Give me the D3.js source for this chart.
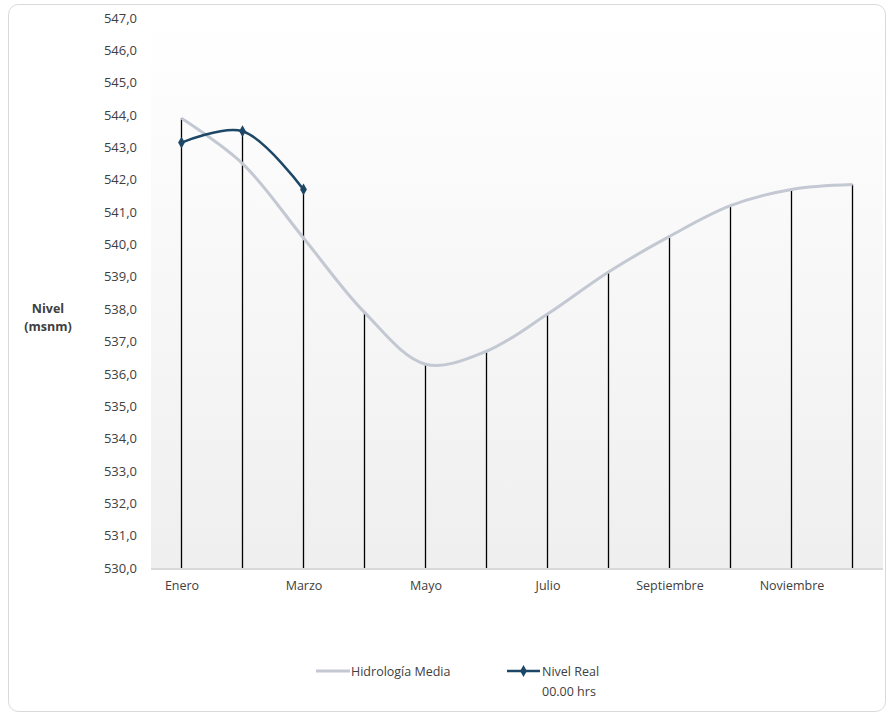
<!DOCTYPE html>
<html>
<head>
<meta charset="utf-8">
<script src="https://cdn.jsdelivr.net/npm/d3@7"></script>
<style>
  body { margin: 0; background: #fff; }
  svg { font-family: "Open Sans", "Noto Sans", sans-serif; }
</style>
</head>
<body>
<svg id="chart" width="893" height="716"></svg>
<script>
const meses = ["Enero", "Febrero", "Marzo", "Abril", "Mayo", "Junio", "Julio",
  "Agosto", "Septiembre", "Octubre", "Noviembre", "Diciembre"];
const hidrologiaMedia = [543.9, 542.5, 540.2, 537.9, 536.3, 536.7, 537.85,
  539.15, 540.25, 541.2, 541.7, 541.85];
const nivelReal = [543.15, 543.5, 541.7];
const yTicks = d3.range(530, 548, 1);
const xLabels = ["Enero", "Marzo", "Mayo", "Julio", "Septiembre", "Noviembre"];

const margin = { top: 18, left: 151 };
const innerWidth = 883 - margin.left;
const innerHeight = 568 - margin.top;
const textColor = "#404040";

const svg = d3.select("#chart");

// chart border
svg.append("rect")
    .attr("x", 8.5)
    .attr("y", 4.5)
    .attr("width", 877)
    .attr("height", 707)
    .attr("rx", 10)
    .attr("fill", "#fff")
    .attr("stroke", "#d9d9d9");

const defs = svg.append("defs");
const grad = defs.append("linearGradient")
    .attr("id", "bg")
    .attr("x1", 0).attr("x2", 0)
    .attr("y1", 0).attr("y2", 1);
grad.append("stop").attr("offset", "0%").attr("stop-color", "#ffffff");
grad.append("stop").attr("offset", "100%").attr("stop-color", "#efefef");

const innerChart = svg.append("g")
    .attr("transform", `translate(${margin.left}, ${margin.top})`);

const xScale = d3.scalePoint()
    .domain(meses)
    .range([0, innerWidth])
    .padding(0.5);

const yScale = d3.scaleLinear()
    .domain([530, 547])
    .range([innerHeight, 0]);

innerChart.append("rect")
    .attr("x", 0)
    .attr("y", 0)
    .attr("width", innerWidth)
    .attr("height", innerHeight)
    .attr("fill", "url(#bg)");

// bottom axis line
innerChart.append("line")
    .attr("x1", 0)
    .attr("x2", innerWidth)
    .attr("y1", innerHeight + 1)
    .attr("y2", innerHeight + 1)
    .attr("stroke", "#d9d9d9")
    .attr("stroke-width", 2);

// drop lines from the highest value at each month
innerChart.append("g")
    .attr("class", "drop-lines")
  .selectAll("line")
  .data(meses)
  .join("line")
    .attr("x1", d => xScale(d))
    .attr("x2", d => xScale(d))
    .attr("y1", (d, i) => yScale(d3.max([hidrologiaMedia[i], nivelReal[i]].filter(v => v !== undefined))))
    .attr("y2", innerHeight)
    .attr("stroke", "#000")
    .attr("stroke-width", 1.3);

// y axis labels
const yAxis = d3.axisLeft(yScale)
    .tickValues(yTicks)
    .tickSize(0)
    .tickPadding(14)
    .tickFormat(d => d3.format(".1f")(d).replace(".", ","));
innerChart.append("g")
    .call(yAxis)
    .attr("font-family", null)
    .attr("font-size", null)
    .call(g => g.select(".domain").remove())
    .selectAll("text")
      .style("font-size", "13px")
      .style("fill", textColor);

// x axis labels
const xAxis = d3.axisBottom(xScale)
    .tickValues(xLabels)
    .tickSize(0)
    .tickPadding(13);
innerChart.append("g")
    .attr("transform", `translate(0, ${innerHeight})`)
    .call(xAxis)
    .attr("font-family", null)
    .attr("font-size", null)
    .call(g => g.select(".domain").remove())
    .selectAll("text")
      .style("font-size", "12.5px")
      .style("fill", textColor);

// y axis title
const yTitle = svg.append("text")
    .attr("x", 48)
    .attr("y", 313)
    .attr("text-anchor", "middle")
    .style("font-size", "12.5px")
    .style("font-weight", 700)
    .style("fill", textColor);
yTitle.append("tspan").attr("x", 48).text("Nivel");
yTitle.append("tspan").attr("x", 48).attr("dy", 18).text("(msnm)");

const line = d3.line()
    .x((d, i) => xScale(meses[i]))
    .y(d => yScale(d))
    .curve(d3.curveCatmullRom.alpha(0.5));

innerChart.append("path")
    .datum(hidrologiaMedia)
    .attr("d", line)
    .attr("fill", "none")
    .attr("stroke", "#c3c8d3")
    .attr("stroke-width", 3);

innerChart.append("path")
    .datum(nivelReal)
    .attr("d", line)
    .attr("fill", "none")
    .attr("stroke", "#1d4766")
    .attr("stroke-width", 2.5);

const diamond = d3.symbol().type(d3.symbolDiamond).size(40);
innerChart.selectAll(".marker")
  .data(nivelReal)
  .join("path")
    .attr("class", "marker")
    .attr("d", diamond)
    .attr("transform", (d, i) => `translate(${xScale(meses[i])}, ${yScale(d)})`)
    .attr("fill", "#1d4766");

// legend
const legend = svg.append("g").style("font-size", "12.5px");
legend.append("line")
    .attr("x1", 316).attr("x2", 350)
    .attr("y1", 671).attr("y2", 671)
    .attr("stroke", "#c3c8d3")
    .attr("stroke-width", 3);
legend.append("text")
    .attr("x", 351).attr("y", 676)
    .style("fill", textColor)
    .text("Hidrología Media");

legend.append("line")
    .attr("x1", 507).attr("x2", 540)
    .attr("y1", 671).attr("y2", 671)
    .attr("stroke", "#1d4766")
    .attr("stroke-width", 2.5);
legend.append("path")
    .attr("d", diamond)
    .attr("transform", "translate(523.5, 671)")
    .attr("fill", "#1d4766");
legend.append("text")
    .attr("x", 542).attr("y", 676)
    .style("fill", textColor)
    .text("Nivel Real");
legend.append("text")
    .attr("x", 542).attr("y", 696)
    .style("fill", textColor)
    .text("00.00 hrs");
</script>
</body>
</html>
